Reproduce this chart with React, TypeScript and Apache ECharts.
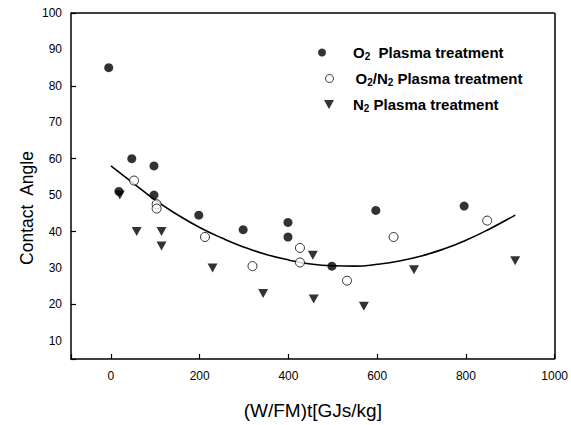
import React, { useEffect, useRef } from "react";
import * as echarts from "echarts";

const o2Points = [
  [-5, 85], [18, 51], [47, 60], [97, 58], [97, 50], [198, 44.5], [298, 40.5],
  [399, 42.5], [399, 38.5], [498, 30.5], [597, 45.8], [796, 47],
];
const o2n2Points = [
  [52, 54], [103, 47.5], [103, 46.3], [212, 38.5], [319, 30.5], [426, 35.5],
  [426, 31.5], [532, 26.5], [637, 38.5], [848, 43],
];
const n2Points = [
  [20, 50], [58, 40], [114, 40], [114, 36], [229, 30], [343, 23], [455, 33.5],
  [457, 21.5], [570, 19.5], [683, 29.5], [911, 32],
];
const fitCurve = [
  [0, 58], [50, 53.3], [100, 48.6], [150, 44.6], [200, 41.1], [250, 38.2],
  [300, 35.7], [350, 33.7], [400, 32.2], [450, 31.1], [500, 30.6], [550, 30.5],
  [600, 31], [650, 31.9], [700, 33.3], [750, 35.2], [800, 37.6], [850, 40.5], [911, 44.5],
];
const xTicks = [0, 200, 400, 600, 800, 1000];
const yTicks = [10, 20, 30, 40, 50, 60, 70, 80, 90, 100];
const xMax = 1000;
const yMax = 100;

const seriesNames = ["O2 Plasma treatment", "O2/N2 Plasma treatment", "N2 Plasma treatment"];

const FONT = "Liberation Sans, Arial, Helvetica, sans-serif";

export default function App() {
  const ref = useRef<HTMLDivElement>(null);
  useEffect(() => {
    if (!ref.current) return;
    const chart = echarts.init(ref.current, null, { renderer: "svg" });
    const rich = {
      a: { fontSize: 15, fontWeight: "bold", fontFamily: FONT, color: "#000" },
      s: { fontSize: 10, fontWeight: "bold", fontFamily: FONT, color: "#000", padding: [8, 0, 0, 0] },
    };
    const fmt = (name: string) => {
      if (name === seriesNames[0]) return "{a|O}{s|2}{a|  Plasma treatment}";
      if (name === seriesNames[1]) return "{a|O}{s|2}{a|/N}{s|2}{a| Plasma treatment}";
      return "{a|N}{s|2}{a| Plasma treatment}";
    };
    const mkLegend = (item: any, left: number, top: number, pad: number, w: number, h: number) => ({
      show: true,
      data: [item],
      left,
      top,
      orient: "vertical",
      itemWidth: w,
      itemHeight: h,
      padding: 0,
      formatter: fmt,
      textStyle: { rich, padding: [0, 0, 0, pad], fontFamily: FONT },
      selectedMode: false,
    });
    chart.setOption({
      animation: false,
      backgroundColor: "#fff",
      grid: { left: 71, right: 16, top: 13, bottom: 65 },
      legend: [
        mkLegend({ name: seriesNames[0], icon: "circle", itemStyle: { color: "#000" } }, 318, 45, 22, 8, 8),
        mkLegend({ name: seriesNames[1], icon: "circle", itemStyle: { color: "#fff", borderColor: "#000", borderWidth: 1 } }, 325, 71, 17, 8, 8),
        mkLegend({ name: seriesNames[2], icon: "path://M0,0L10,0L5,9Z", itemStyle: { color: "#000" } }, 324, 97, 14, 10, 9),
      ],
      xAxis: {
        type: "value",
        min: -90,
        max: xMax,
        position: "bottom",
        axisLine: { show: true, onZero: false, lineStyle: { color: "#000", width: 1.5 } },
        splitLine: { show: false },
        axisTick: { show: true, inside: true, length: 5, lineStyle: { color: "#000", width: 1.2 } },
        minorTick: { show: false },
        axisLabel: { show: true, customValues: xTicks, margin: 11, color: "#000", fontSize: 12, fontFamily: FONT, formatter: (v: number) => String(v) },
        name: "(W/FM)t[GJs/kg]",
        nameLocation: "middle",
        nameGap: 42,
        nameTextStyle: { fontSize: 19, color: "#000", fontFamily: FONT },
      },
      yAxis: {
        type: "value",
        min: 5,
        max: yMax,
        position: "left",
        axisLine: { show: true, onZero: false, lineStyle: { color: "#000", width: 1.5 } },
        splitLine: { show: false },
        axisTick: { show: true, inside: true, length: 5, lineStyle: { color: "#000", width: 1.2 } },
        axisLabel: { show: true, customValues: yTicks, margin: 9, color: "#000", fontSize: 12, fontFamily: FONT },
      },
      graphic: [
        {
          type: "text",
          x: 27,
          y: 208,
          rotation: Math.PI / 2,
          style: {
            text: "Contact  Angle",
            fontSize: 17.5,
            fontFamily: FONT,
            fill: "#000",
            align: "center",
            verticalAlign: "middle",
          },
        },
      ],
      series: [
        {
          name: "fit",
          type: "line",
          data: fitCurve,
          smooth: true,
          showSymbol: false,
          symbol: "none",
          lineStyle: { color: "#000", width: 1.6 },
          z: 1,
          markLine: {
            silent: true,
            symbol: ["none", "none"],
            label: { show: false },
            lineStyle: { color: "#000", width: 1.5, type: "solid" },
            data: [{ yAxis: yMax }, { xAxis: xMax }],
          },
        },
        {
          name: seriesNames[0],
          type: "scatter",
          data: o2Points,
          symbol: "circle",
          symbolSize: 9,
          itemStyle: { color: "#000" },
          z: 3,
        },
        {
          name: seriesNames[1],
          type: "scatter",
          data: o2n2Points,
          symbol: "circle",
          symbolSize: 9,
          itemStyle: { color: "#fff", borderColor: "#000", borderWidth: 1 },
          z: 3,
        },
        {
          name: seriesNames[2],
          type: "scatter",
          data: n2Points,
          symbol: "triangle",
          symbolRotate: 180,
          symbolSize: [10, 9],
          itemStyle: { color: "#000" },
          z: 3,
        },
      ],
    });
    return () => chart.dispose();
  }, []);
  return <div ref={ref} style={{ width: 571, height: 425, position: "absolute", left: 0, top: 0 }} />;
}
